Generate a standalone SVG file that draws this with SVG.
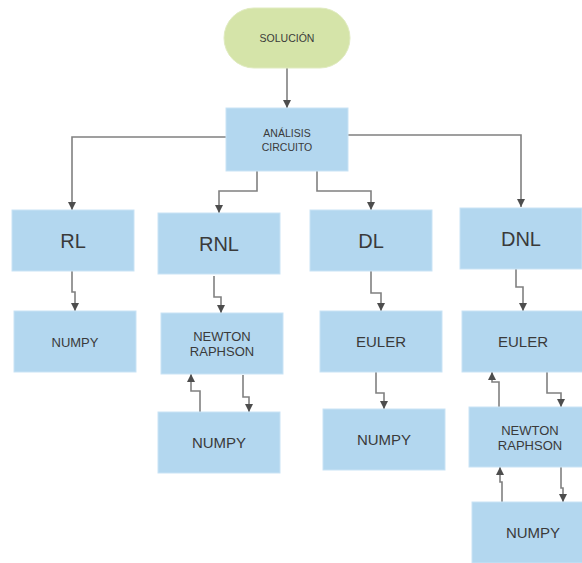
<svg xmlns="http://www.w3.org/2000/svg" width="582" height="563" viewBox="0 0 582 563">
<defs>
<marker id="ah" markerUnits="userSpaceOnUse" markerWidth="10" markerHeight="10" viewBox="0 0 10 10" refX="9" refY="5" orient="auto">
<path d="M1,1 L9,5 L1,9 z" fill="#4d4d4d"/>
</marker>
<style>
.box{fill:#b3d7ef;stroke:#c9e3f5;stroke-width:1}
.pill{fill:#d5e4a9;stroke:#e0ebc0;stroke-width:1}
text{font-family:"Liberation Sans",Arial,sans-serif;fill:#3a3a3a;text-anchor:middle;dominant-baseline:central}
.s{font-size:10.5px}
.b{font-size:20px}
.m{font-size:15px}
.n{font-size:13px}
.c path{fill:none;stroke:#808080;stroke-width:1.6;marker-end:url(#ah)}
</style>
</defs>
<rect width="582" height="563" fill="#ffffff"/>
<g class="c" id="connectors">
<path d="M287,68 V108"/>
<path d="M226,137 H72 V210"/>
<path d="M257,171 V191 H219 V213"/>
<path d="M317,171 V191 H371 V210"/>
<path d="M348,135 H521 V207"/>
<path d="M72,271 V292 H75 V311"/>
<path d="M214,276 V297 H221 V313"/>
<path d="M243,375 V397 H249 V412"/>
<path d="M200,412 V391 H191 V374"/>
<path d="M371,271 V293 H381 V311"/>
<path d="M376,372 V393 H384 V409"/>
<path d="M516,269 V287 H523 V311"/>
<path d="M547,372 V393 H561 V407"/>
<path d="M499,407 V382 H492 V372"/>
<path d="M561,467 V488 H563 V502"/>
<path d="M502,502 V482 H500 V467"/>
</g>
<g id="solucion"><rect class="pill" x="224" y="8" width="126" height="60" rx="30"/><text class="s" x="287" y="38">SOLUCIÓN</text></g>
<g id="analisis"><rect class="box" x="226" y="108" width="122" height="63"/><text class="s" x="287" y="133">ANÁLISIS</text><text class="s" x="287" y="147">CIRCUITO</text></g>
<g id="rl"><rect class="box" x="12" y="210" width="122" height="61"/><text class="b" x="73" y="241">RL</text></g>
<g id="rnl"><rect class="box" x="158" y="213" width="122" height="61"/><text class="b" x="219" y="244">RNL</text></g>
<g id="dl"><rect class="box" x="310" y="210" width="122" height="61"/><text class="b" x="371" y="241">DL</text></g>
<g id="dnl"><rect class="box" x="460" y="208" width="122" height="61"/><text class="b" x="521" y="239">DNL</text></g>
<g id="numpy-rl"><rect class="box" x="14" y="311" width="122" height="61"/><text class="n" x="75" y="342">NUMPY</text></g>
<g id="newton-rnl"><rect class="box" x="161" y="313" width="122" height="61"/><text class="n" x="222" y="336">NEWTON</text><text class="n" x="222" y="351">RAPHSON</text></g>
<g id="numpy-rnl"><rect class="box" x="158" y="412" width="122" height="61"/><text class="m" x="219" y="442">NUMPY</text></g>
<g id="euler-dl"><rect class="box" x="320" y="311" width="122" height="61"/><text class="m" x="381" y="341">EULER</text></g>
<g id="numpy-dl"><rect class="box" x="323" y="409" width="122" height="61"/><text class="m" x="384" y="439">NUMPY</text></g>
<g id="euler-dnl"><rect class="box" x="462" y="311" width="122" height="61"/><text class="m" x="523" y="341">EULER</text></g>
<g id="newton-dnl"><rect class="box" x="469" y="407" width="122" height="60"/><text class="n" x="530" y="430">NEWTON</text><text class="n" x="530" y="445">RAPHSON</text></g>
<g id="numpy-dnl"><rect class="box" x="472" y="502" width="122" height="61"/><text class="m" x="533" y="532">NUMPY</text></g>
</svg>
